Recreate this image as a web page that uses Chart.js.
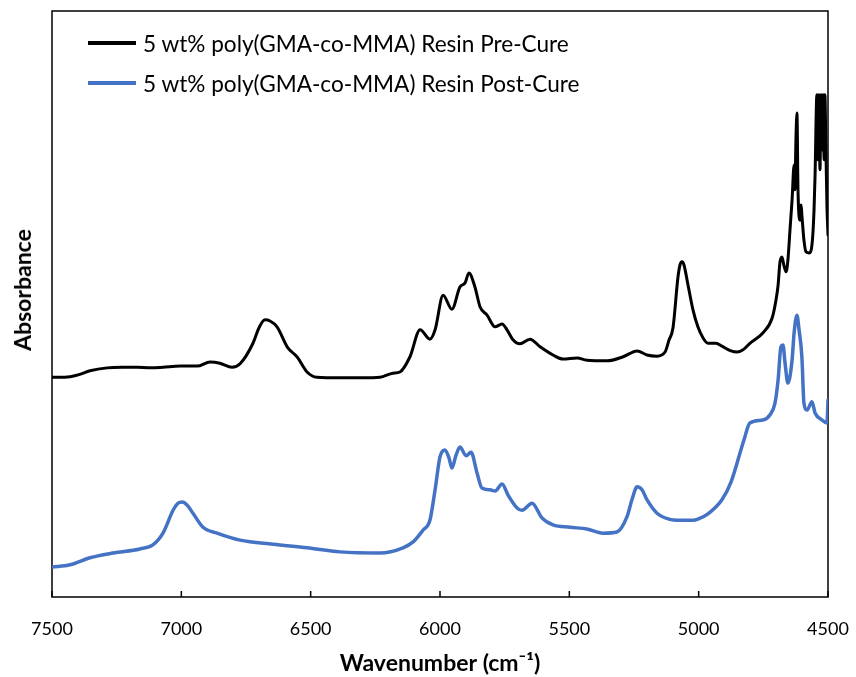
<!DOCTYPE html>
<html>
<head>
<meta charset="utf-8">
<script src="https://cdn.jsdelivr.net/npm/chart.js@4.4.1/dist/chart.umd.min.js"></script>
<style>
  html, body { margin: 0; padding: 0; background: #fff; }
  #wrap { position: relative; width: 856px; height: 677px; }
  #legend { position: absolute; left: 88px; top: 23px; font-family: Lato, sans-serif; font-size: 22.6px; color: #000; }
  .row { display: flex; align-items: center; height: 40px; white-space: nowrap; }
  .swatch { width: 48px; height: 4px; margin-right: 7px; }
  #ytitle { position: absolute; left: 22px; top: 290px; transform: translate(-50%, -50%) rotate(-90deg);
            font-family: Lato, sans-serif; font-weight: bold; font-size: 23px; color: #000; white-space: nowrap; }
</style>
</head>
<body>
<div id="wrap">
  <canvas id="c" width="856" height="677" style="width:856px;height:677px"></canvas>
  <div id="legend"></div>
  <div id="ytitle">Absorbance</div>
</div>
<script>
// Wavenumber axis tick labels (cm-1)
const xTicks = [7500, 7000, 6500, 6000, 5500, 5000, 4500];

const seriesNames = [
  '5 wt% poly(GMA-co-MMA) Resin Pre-Cure',
  '5 wt% poly(GMA-co-MMA) Resin Post-Cure'
];
const seriesColors = ['#000000', '#4472C4'];

// Pre-cure spectrum (offset upward)
const preCureWavenumber = [
  7500, 7450, 7399, 7353, 7287, 7229, 7171, 7121, 7071, 7005, 6939, 6889, 6851, 6804, 6773,
  6723, 6700, 6677, 6657, 6630, 6588, 6553, 6514, 6476, 6387, 6302, 6232, 6182, 6155, 6116,
  6077, 6039, 6019, 5988, 5954, 5923, 5903, 5888, 5865, 5845, 5818, 5787, 5760, 5741, 5718,
  5691, 5652, 5613, 5563, 5524, 5470, 5432, 5354, 5292, 5238, 5200, 5161, 5130, 5115, 5099,
  5080, 5072, 5064, 5057, 5041, 5022, 5003, 4983, 4964, 4933, 4910, 4875, 4852, 4825, 4802,
  4751, 4716, 4701, 4693, 4686, 4678, 4670, 4662, 4655, 4647, 4639, 4631, 4628, 4624, 4620,
  4616, 4608, 4604, 4601, 4593, 4585, 4573, 4562, 4554, 4550, 4543, 4539, 4535, 4531, 4527,
  4523, 4519, 4515, 4512, 4508, 4504, 4500
];
const preCureAbsorbance = [
  0.375, 0.375, 0.379, 0.386, 0.391, 0.392, 0.392, 0.391, 0.392, 0.394, 0.394, 0.401, 0.399, 0.392, 0.398,
  0.433, 0.459, 0.473, 0.471, 0.461, 0.425, 0.410, 0.384, 0.375, 0.374, 0.374, 0.375, 0.382, 0.384, 0.410,
  0.456, 0.440, 0.456, 0.515, 0.491, 0.529, 0.536, 0.553, 0.529, 0.495, 0.481, 0.461, 0.466, 0.456, 0.439,
  0.432, 0.440, 0.427, 0.413, 0.406, 0.408, 0.404, 0.403, 0.410, 0.420, 0.413, 0.411, 0.418, 0.438, 0.460,
  0.546, 0.567, 0.572, 0.567, 0.532, 0.490, 0.461, 0.442, 0.433, 0.433, 0.428, 0.420, 0.418, 0.423, 0.433,
  0.451, 0.476, 0.507, 0.532, 0.570, 0.580, 0.565, 0.555, 0.575, 0.626, 0.677, 0.737, 0.695, 0.780, 0.826,
  0.695, 0.643, 0.669, 0.652, 0.609, 0.589, 0.587, 0.601, 0.660, 0.720, 0.857, 0.746, 0.857, 0.729, 0.857,
  0.763, 0.857, 0.746, 0.857, 0.763, 0.666, 0.618
];

// Post-cure spectrum
const postCureWavenumber = [
  7500, 7430, 7353, 7264, 7160, 7110, 7071, 7032, 7013, 6997, 6978, 6955, 6916, 6862, 6773,
  6646, 6514, 6387, 6232, 6143, 6104, 6066, 6039, 6019, 6000, 5981, 5965, 5954, 5938, 5923,
  5899, 5880, 5857, 5838, 5807, 5787, 5760, 5737, 5702, 5683, 5644, 5606, 5563, 5497, 5432,
  5370, 5316, 5277, 5258, 5238, 5219, 5200, 5161, 5115, 5072, 5022, 5003, 4964, 4910, 4875,
  4825, 4802, 4751, 4724, 4705, 4693, 4682, 4674, 4666, 4655, 4639, 4631, 4620, 4612, 4601,
  4593, 4581, 4562, 4550, 4523, 4504, 4500
];
const postCureAbsorbance = [
  0.051, 0.055, 0.067, 0.075, 0.082, 0.089, 0.109, 0.148, 0.160, 0.162, 0.157, 0.143, 0.119, 0.109, 0.097,
  0.090, 0.084, 0.077, 0.075, 0.084, 0.094, 0.114, 0.131, 0.183, 0.239, 0.251, 0.237, 0.220, 0.242, 0.256,
  0.241, 0.247, 0.212, 0.186, 0.183, 0.181, 0.193, 0.174, 0.152, 0.148, 0.160, 0.135, 0.123, 0.119, 0.116,
  0.109, 0.111, 0.137, 0.166, 0.188, 0.183, 0.166, 0.143, 0.133, 0.131, 0.131, 0.133, 0.142, 0.166, 0.196,
  0.268, 0.297, 0.302, 0.311, 0.331, 0.370, 0.427, 0.430, 0.399, 0.365, 0.404, 0.451, 0.481, 0.456, 0.410,
  0.331, 0.319, 0.333, 0.314, 0.302, 0.297, 0.336
];

const toPoints = (xs, ys) => xs.map((x, i) => ({ x, y: ys[i] }));

// Legend rows
const legend = document.getElementById('legend');
seriesNames.forEach((name, i) => {
  const row = document.createElement('div');
  row.className = 'row';
  const sw = document.createElement('span');
  sw.className = 'swatch';
  sw.style.background = seriesColors[i];
  const label = document.createElement('span');
  label.textContent = name;
  row.appendChild(sw);
  row.appendChild(label);
  legend.appendChild(row);
});

// Plot frame and inward x tick marks
const frame = {
  id: 'frame',
  beforeDatasetsDraw(chart) {
    const { ctx, chartArea: a, scales: { x } } = chart;
    ctx.save();
    ctx.strokeStyle = '#000';
    ctx.lineWidth = 1.5;
    ctx.strokeRect(a.left, a.top, a.right - a.left, a.bottom - a.top);
    xTicks.forEach(v => {
      const px = x.getPixelForValue(v);
      ctx.beginPath();
      ctx.moveTo(px, a.bottom);
      ctx.lineTo(px, a.bottom - 6);
      ctx.stroke();
    });
    ctx.restore();
  }
};

new Chart(document.getElementById('c'), {
  type: 'line',
  data: {
    datasets: [
      { label: seriesNames[0], data: toPoints(preCureWavenumber, preCureAbsorbance),
        borderColor: seriesColors[0], borderWidth: 3 },
      { label: seriesNames[1], data: toPoints(postCureWavenumber, postCureAbsorbance),
        borderColor: seriesColors[1], borderWidth: 3.5 }
    ]
  },
  options: {
    responsive: false,
    animation: false,
    layout: { padding: { top: 11, right: 28, left: 0, bottom: 0 } },
    elements: {
      point: { radius: 0 },
      line: { cubicInterpolationMode: 'monotone', borderJoinStyle: 'round', borderCapStyle: 'round', fill: false }
    },
    plugins: { legend: { display: false }, tooltip: { enabled: false } },
    scales: {
      x: {
        type: 'linear', reverse: true, min: 4500, max: 7500,
        afterBuildTicks: s => { s.ticks = xTicks.map(v => ({ value: v })); },
        afterFit: s => { s.height = 80; s.paddingLeft = 0; s.paddingRight = 0; },
        grid: { display: false }, border: { display: false },
        ticks: { padding: 13, autoSkip: false, maxRotation: 0, color: '#000',
                 font: { family: 'Lato', size: 18 }, callback: v => String(v) },
        title: { display: true, text: 'Wavenumber (cm⁻¹)', color: '#000',
                 font: { family: 'Lato', size: 23, weight: 'bold' }, padding: { top: 0, bottom: 0 } }
      },
      y: {
        min: 0, max: 1,
        afterFit: s => { s.width = 52; },
        ticks: { display: false }, grid: { display: false }, border: { display: false },
        title: { display: false }
      }
    }
  },
  plugins: [frame]
});
</script>
</body>
</html>
